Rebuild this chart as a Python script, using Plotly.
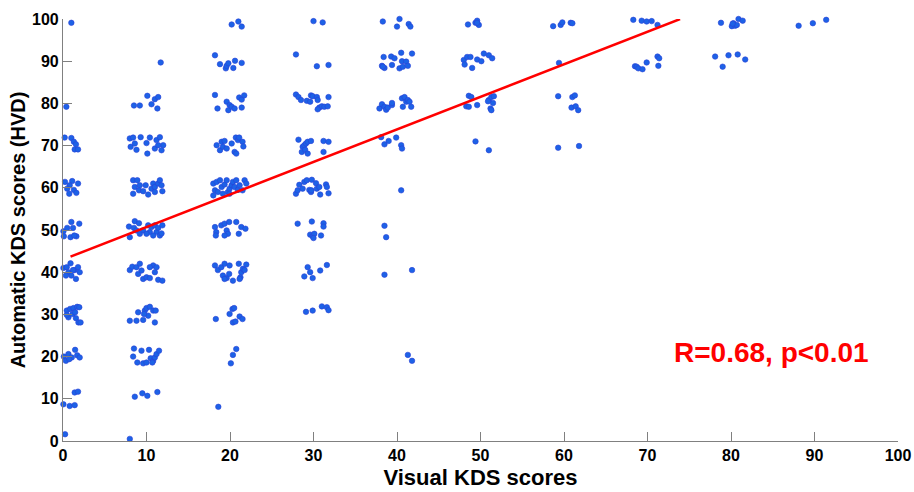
import plotly.graph_objects as go

# Visual KDS score groups: (visual score, automatic HVD score) pairs, jittered for display
grp_00 = [(1.0, 99.1), (0.4, 79.2),
          (0.2, 71.9), (1.0, 71.8), (1.3, 70.9), (1.55, 70.3), (1.4, 69.1), (1.8, 69.1),
          (0.24, 61.4), (1.1, 61.6), (0.8, 60.6), (0.5, 59.8), (0.75, 58.6), (1.3, 59.5), (1.6, 58.8), (1.8, 61.0),
          (0.05, 49.7), (0.1, 48.5), (0.5, 50.5), (1.0, 51.9), (1.2, 50.5), (0.9, 48.3), (1.6, 48.5), (1.95, 51.5), (1.35, 48.7),
          (0.05, 41.0), (0.45, 41.2), (0.9, 42.1), (0.65, 40.0), (1.0, 39.2), (1.4, 40.5), (1.55, 38.4), (1.8, 41.2), (2.0, 40.0), (1.2, 40.5), (0.35, 39.2),
          (0.45, 30.9), (0.85, 31.3), (1.25, 31.5), (1.7, 31.8), (1.95, 31.7), (0.65, 29.3), (0.45, 29.9), (1.15, 30.1), (1.55, 29.1), (1.85, 28.1), (2.1, 28.1), (1.45, 30.5),
          (0.1, 20.0), (0.35, 19.0), (0.65, 20.6), (1.05, 19.8), (1.45, 21.6), (1.7, 20.3), (2.0, 19.8), (0.75, 19.4),
          (1.4, 11.5), (1.8, 11.7), (0.05, 8.7), (0.8, 8.3), (1.4, 8.5),
          (0.25, 1.6)]

grp_10 = [(11.7, 89.7),
          (8.5, 79.5), (9.2, 79.5), (10.1, 81.8), (10.6, 79.8), (11.0, 81.0), (11.4, 81.5), (11.3, 78.8),
          (8.0, 71.7), (8.4, 71.9), (8.1, 69.7), (8.6, 70.5), (8.8, 69.0), (9.3, 72.0), (10.0, 70.6), (10.1, 68.1),
          (10.4, 71.9), (11.0, 69.3), (11.2, 71.3), (11.6, 72.0), (11.8, 68.9), (12.0, 70.1), (11.4, 70.1),
          (8.4, 61.8), (8.9, 61.8), (8.6, 60.2), (8.4, 58.6), (9.2, 60.6), (9.1, 59.4), (9.6, 59.2), (9.9, 60.6), (10.2, 58.4),
          (10.6, 59.8), (10.8, 61.0), (11.0, 60.2), (11.4, 61.0), (11.6, 61.8), (11.8, 60.6), (11.9, 59.2), (11.0, 59.0),
          (7.9, 50.8), (8.5, 50.5), (8.0, 48.3), (8.8, 49.9), (9.2, 49.1), (9.6, 49.9), (10.2, 51.1), (10.4, 49.5), (10.6, 50.7),
          (11.0, 51.1), (11.2, 49.5), (11.4, 50.5), (11.6, 48.7), (11.8, 49.2), (11.9, 51.1), (10.8, 48.7), (10.0, 49.1), (8.6, 52.1), (9.1, 51.6),
          (8.0, 40.5), (8.3, 41.3), (8.8, 41.2), (9.2, 42.0), (9.0, 39.6), (9.4, 40.4), (9.6, 38.4), (10.0, 38.8), (10.4, 38.6),
          (10.8, 41.6), (11.0, 40.0), (11.2, 41.2), (11.4, 38.2), (11.9, 38.0), (10.4, 41.2),
          (8.0, 28.5), (8.8, 28.5), (9.0, 30.5), (9.6, 28.7), (9.8, 30.9), (10.0, 31.5), (10.2, 29.7), (10.4, 31.8), (10.8, 30.9),
          (11.0, 28.1), (11.1, 30.9), (9.7, 30.1),
          (8.5, 21.9), (8.4, 20.0), (9.4, 21.4), (8.9, 18.6), (9.6, 18.4), (10.0, 18.6), (10.3, 21.6), (10.5, 19.6), (10.8, 19.0),
          (11.0, 19.8), (11.2, 20.6), (11.5, 21.4), (10.7, 18.6),
          (8.6, 10.5), (9.5, 11.3), (10.1, 10.7), (11.3, 11.6),
          (8.0, 0.5)]

grp_20 = [(20.2, 98.7), (21.0, 99.4), (21.4, 98.2),
          (18.2, 91.4), (18.8, 89.3), (19.5, 88.3), (19.6, 88.9), (19.8, 89.5), (20.4, 88.4), (20.6, 90.1), (21.4, 89.6),
          (18.2, 82.0), (18.5, 78.8), (19.6, 80.4), (19.95, 79.6), (19.8, 78.4), (20.2, 79.2), (20.55, 78.8), (21.1, 81.4),
          (21.4, 80.9), (21.7, 81.9), (21.4, 79.0),
          (18.4, 70.1), (18.8, 68.9), (19.0, 70.9), (19.15, 69.7), (19.35, 71.1), (19.6, 69.3), (20.2, 70.5), (20.7, 71.9),
          (20.95, 71.3), (21.1, 71.9), (21.5, 70.9), (21.6, 69.8), (20.55, 68.5), (20.75, 68.1),
          (18.0, 61.0), (18.2, 59.4), (18.0, 58.2), (18.4, 61.4), (18.8, 61.8), (19.0, 60.2), (19.35, 60.8), (19.6, 61.8),
          (19.75, 59.0), (19.95, 59.8), (20.2, 60.6), (20.35, 61.4), (20.55, 60.2), (20.75, 61.8), (20.95, 59.5), (21.15, 60.6),
          (21.5, 59.4), (21.75, 61.8), (21.95, 61.0), (18.55, 59.0), (19.15, 58.6), (19.95, 58.6),
          (18.2, 50.7), (18.35, 49.5), (18.3, 48.7), (18.96, 51.1), (19.35, 51.5), (19.6, 49.9), (19.75, 49.1), (19.9, 51.9),
          (20.75, 51.9), (21.05, 49.1), (21.35, 50.7), (21.85, 50.3), (19.35, 48.7),
          (18.2, 41.6), (18.55, 40.5), (18.96, 41.2), (19.35, 42.0), (19.15, 39.2), (19.6, 38.6), (19.9, 39.6), (19.95, 41.6),
          (20.35, 38.0), (21.05, 42.0), (21.25, 38.8), (21.35, 40.0), (21.55, 40.8), (21.75, 40.5), (21.95, 41.8), (21.15, 38.4), (19.35, 38.4),
          (18.3, 28.9), (19.95, 30.1), (20.3, 31.3), (20.5, 31.5), (20.35, 28.1), (20.65, 28.3), (21.15, 29.5), (21.5, 28.9),
          (20.75, 21.8), (20.35, 20.4), (20.1, 18.4),
          (18.6, 8.1)]

grp_30 = [(30.0, 99.5), (31.1, 99.2),
          (27.9, 91.6), (30.4, 88.8), (31.8, 89.1),
          (27.9, 82.1), (28.2, 81.5), (28.5, 80.8), (29.2, 80.6), (29.7, 81.9), (29.6, 80.4), (29.9, 81.7), (30.4, 81.5),
          (30.5, 80.8), (30.7, 79.0), (31.0, 79.3), (31.3, 79.2), (31.7, 79.3), (31.8, 81.5), (30.5, 78.6),
          (28.2, 71.4), (28.7, 69.7), (28.9, 70.1), (29.1, 70.5), (29.3, 70.9), (29.7, 71.1), (28.6, 68.5), (29.0, 69.0),
          (29.3, 68.1), (31.2, 71.1), (31.8, 70.9), (31.2, 68.5),
          (27.9, 58.6), (28.1, 59.4), (28.3, 60.7), (28.7, 59.8), (28.9, 61.4), (29.2, 61.8), (29.5, 59.5), (29.7, 59.0),
          (29.8, 61.9), (30.3, 61.1), (30.4, 59.8), (30.7, 60.2), (30.8, 58.4), (31.5, 60.8), (31.8, 58.7), (31.6, 60.2), (29.75, 59.4),
          (28.1, 51.5), (29.8, 52.0), (31.2, 51.6), (31.2, 50.8), (29.6, 48.9), (29.9, 48.5), (30.1, 49.1), (30.9, 48.7), (30.0, 48.1),
          (29.3, 41.2), (29.6, 40.0), (28.9, 39.0), (29.9, 38.6), (30.8, 40.4), (31.6, 41.7),
          (29.1, 30.6), (29.9, 30.9), (31.0, 31.9), (31.6, 31.7), (31.8, 31.0)]

grp_40 = [(38.3, 99.4), (40.3, 100.0), (40.0, 98.2), (41.4, 98.8), (41.6, 98.2),
          (38.2, 88.9), (38.4, 91.0), (38.5, 88.4), (39.3, 91.1), (39.7, 90.7), (39.4, 89.1), (40.3, 88.3), (40.5, 92.0),
          (40.6, 90.0), (40.7, 88.7), (41.1, 89.9), (41.3, 88.9), (41.8, 91.8), (38.3, 88.7),
          (37.9, 78.8), (38.2, 79.8), (38.5, 79.2), (38.7, 78.5), (38.9, 79.0), (39.4, 79.6), (39.4, 80.1), (40.6, 81.2),
          (40.7, 79.2), (40.9, 81.5), (41.1, 80.4), (41.3, 80.8), (41.7, 79.2), (41.5, 80.4),
          (38.1, 72.0), (38.5, 70.3), (39.0, 71.1), (39.9, 71.9), (40.5, 70.1), (40.6, 69.3),
          (40.5, 59.4),
          (38.5, 51.0), (38.7, 48.3),
          (38.5, 39.4), (41.8, 40.5),
          (41.3, 20.4), (41.8, 19.0)]

grp_50 = [(48.5, 98.7), (49.4, 99.1), (49.6, 99.6), (49.8, 98.6), (49.6, 99.1),
          (48.0, 90.3), (48.1, 89.2), (48.4, 91.0), (48.8, 91.0), (49.0, 88.4), (49.6, 90.4), (50.1, 90.0), (50.4, 91.8),
          (51.0, 91.4), (51.4, 90.7),
          (48.6, 81.8), (48.9, 81.5), (48.3, 79.3), (48.6, 79.2), (49.6, 79.6), (51.0, 80.8), (51.3, 81.5), (51.6, 81.7),
          (51.5, 80.1), (51.2, 78.8), (51.3, 78.4), (50.9, 80.5),
          (49.4, 71.0), (51.0, 68.9)]

grp_60 = [(58.7, 98.3), (59.6, 98.6), (59.8, 99.2), (60.8, 99.1), (61.0, 99.0),
          (59.4, 89.6),
          (59.3, 81.7), (61.0, 81.5), (61.3, 81.9), (60.9, 79.0), (61.4, 79.3), (61.7, 78.4),
          (59.3, 69.5), (61.8, 69.9)]

grp_70 = [(68.3, 99.8), (69.3, 99.6), (69.9, 99.4), (70.5, 99.5), (71.2, 98.6),
          (68.5, 88.8), (68.7, 88.7), (68.9, 88.3), (69.4, 88.1), (69.9, 89.7), (71.2, 91.1), (71.4, 90.7), (71.3, 88.9)]

grp_80 = [(78.8, 99.1), (80.1, 98.3), (80.3, 99.0), (80.5, 98.4), (80.7, 98.6), (80.9, 100.0), (81.4, 99.6), (80.2, 98.9),
          (78.1, 91.1), (79.0, 88.7), (79.7, 91.4), (80.8, 91.6), (81.7, 90.4)]

grp_90 = [(88.1, 98.4), (89.8, 99.0), (91.4, 99.8)]

groups = [grp_00, grp_10, grp_20, grp_30, grp_40, grp_50, grp_60, grp_70, grp_80, grp_90]

# Linear fit of automatic vs visual scores
fit_intercept = 43.0
fit_slope = 0.771
fit_x_range = [0.9, 73.9]

r_value = 0.68
p_label = "p<0.01"

tick_vals = list(range(0, 101, 10))

vis = [p[0] for g in groups for p in g]
auto = [p[1] for g in groups for p in g]

FONT = "Liberation Sans, Arial, sans-serif"

fig = go.Figure()
fig.add_trace(go.Scatter(
    x=vis, y=auto, mode="markers",
    marker=dict(size=5.5, color="#1d62e6", line=dict(color="#2a3fd6", width=0.6)),
    cliponaxis=False, showlegend=False, hoverinfo="x+y"))

fig.add_trace(go.Scatter(
    x=fit_x_range,
    y=[fit_intercept + fit_slope * v for v in fit_x_range],
    mode="lines", line=dict(color="#ff0000", width=2.6),
    showlegend=False))

fig.add_annotation(
    x=84.9, y=21.0, xref="x", yref="y",
    text=f"R={r_value:.2f}, {p_label}", showarrow=False,
    xanchor="center", yanchor="middle",
    font=dict(family=FONT, size=28, color="#ff0000", weight="bold"))

axis_common = dict(
    range=[0, 100], tickvals=tick_vals, showgrid=False, zeroline=False,
    showline=True, linecolor="#808080", linewidth=1.2,
    ticks="inside", ticklen=9, tickcolor="#808080", tickwidth=1.2,
    tickfont=dict(family=FONT, size=16, color="#000000", weight="bold"),
    mirror=False, automargin=False)

fig.update_xaxes(**axis_common,
                 title=dict(text="Visual KDS scores", standoff=6,
                            font=dict(family=FONT, size=22, color="#000000", weight="bold")))
fig.update_yaxes(**axis_common,
                 title=dict(text="Automatic KDS scores (HVD)", standoff=0,
                            font=dict(family=FONT, size=20, color="#000000", weight="bold")))

fig.update_layout(
    width=914, height=492,
    margin=dict(l=63, r=16, t=19, b=51),
    plot_bgcolor="white", paper_bgcolor="white",
    font=dict(family=FONT))

fig.write_html("out.html")
